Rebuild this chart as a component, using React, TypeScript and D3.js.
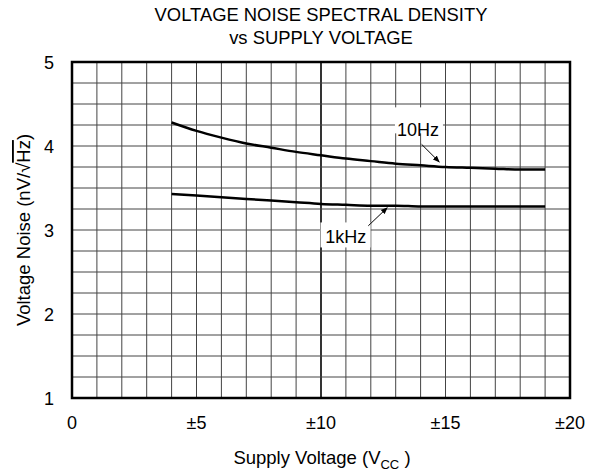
import * as d3 from "d3";

const VOLTS = [4, 5, 6, 7, 8, 9, 10, 11, 12, 13, 14, 15, 16, 17, 18, 19];
const NOISE_10HZ = [4.28, 4.18, 4.1, 4.03, 3.98, 3.93, 3.89, 3.85, 3.82, 3.79, 3.77, 3.75, 3.74, 3.73, 3.72, 3.72];
const NOISE_1KHZ = [3.43, 3.41, 3.39, 3.37, 3.35, 3.33, 3.31, 3.3, 3.29, 3.29, 3.28, 3.28, 3.28, 3.28, 3.28, 3.28];
const X_TICKS = [0, 5, 10, 15, 20];
const X_TICK_LABELS = ["0", "±5", "±10", "±15", "±20"];
const Y_TICKS = [1, 2, 3, 4, 5];

const WIDTH = 600;
const HEIGHT = 472;
const MARGIN = { top: 62, right: 30, bottom: 74, left: 72 };
const INNER_W = WIDTH - MARGIN.left - MARGIN.right;
const INNER_H = HEIGHT - MARGIN.top - MARGIN.bottom;
const FONT = "'Liberation Sans', Arial, sans-serif";

export default function App() {
  const x = d3.scaleLinear().domain([0, 20]).range([0, INNER_W]);
  const y = d3.scaleLinear().domain([1, 5]).range([INNER_H, 0]);

  const line = d3
    .line<number>()
    .x((_, i) => x(VOLTS[i]))
    .y((d) => y(d))
    .curve(d3.curveMonotoneX);

  const vGrid = d3.range(1, 20);
  const hGrid = d3.range(1.25, 5, 0.25);

  return (
    <svg
      width={WIDTH}
      height={HEIGHT}
      style={{ position: "absolute", left: 0, top: 0, background: "#fff" }}
      fontFamily={FONT}
    >
      <text x={321} y={20.5} textAnchor="middle" fontSize={18.4}>
        VOLTAGE NOISE SPECTRAL DENSITY
      </text>
      <text x={321} y={44} textAnchor="middle" fontSize={18.4}>
        vs SUPPLY VOLTAGE
      </text>

      <g transform={`translate(${MARGIN.left},${MARGIN.top})`}>
        {/* grid */}
        {vGrid.map((v) => (
          <line
            key={"v" + v}
            x1={x(v)}
            x2={x(v)}
            y1={0}
            y2={INNER_H}
            stroke={v === 10 ? "#000" : "#444"}
            strokeWidth={v === 10 ? 1.6 : 1}
          />
        ))}
        {hGrid.map((v) => (
          <line
            key={"h" + v}
            x1={0}
            x2={INNER_W}
            y1={y(v)}
            y2={y(v)}
            stroke="#444"
            strokeWidth={1}
          />
        ))}
        <rect x={0} y={0} width={INNER_W} height={INNER_H} fill="none" stroke="#000" strokeWidth={2.5} />

        {/* curves */}
        <path d={line(NOISE_10HZ) ?? ""} fill="none" stroke="#000" strokeWidth={2.5} />
        <path d={line(NOISE_1KHZ) ?? ""} fill="none" stroke="#000" strokeWidth={2.5} />

        {/* labels with arrows */}
        <defs>
          <marker id="arr" viewBox="0 0 10 10" refX={9} refY={5} markerWidth={7} markerHeight={7} orient="auto">
            <path d="M0,1 L10,5 L0,9 z" fill="#000" />
          </marker>
        </defs>
        <rect x={x(12.97)} y={y(4.46)} width={48} height={26} fill="#fff" />
        <text x={x(13.9)} y={y(4.12)} textAnchor="middle" fontSize={18}>
          10Hz
        </text>
        <line
          x1={x(14.04)}
          y1={y(4.02)}
          x2={x(14.75)}
          y2={y(3.81)}
          stroke="#000"
          strokeWidth={1}
          markerEnd="url(#arr)"
        />
        <rect x={x(9.98)} y={y(3.09)} width={50} height={25} fill="#fff" />
        <text x={x(10.99)} y={y(2.84)} textAnchor="middle" fontSize={18}>
          1kHz
        </text>
        <line
          x1={x(11.9)}
          y1={y(3.05)}
          x2={x(12.66)}
          y2={y(3.265)}
          stroke="#000"
          strokeWidth={1}
          markerEnd="url(#arr)"
        />

        {/* y ticks */}
        {Y_TICKS.map((t) => (
          <text key={"yt" + t} x={-18} y={y(t) + 6.5} textAnchor="end" fontSize={18}>
            {t}
          </text>
        ))}
        {/* x ticks */}
        {X_TICKS.map((t, i) => (
          <text key={"xt" + t} x={x(t)} y={INNER_H + 31} textAnchor="middle" fontSize={18}>
            {X_TICK_LABELS[i]}
          </text>
        ))}

        <text x={INNER_W / 2 + 1} y={INNER_H + 66} textAnchor="middle" fontSize={18.5}>
          Supply Voltage (V
          <tspan fontSize={13} dy={4.5}>
            CC
          </tspan>
          <tspan dy={-4.5}> )</tspan>
        </text>

        <text
          transform={`translate(-42,${INNER_H / 2}) rotate(-90)`}
          textAnchor="middle"
          fontSize={18.5}
        >
          Voltage Noise (nV/√
          <tspan style={{ textDecoration: "overline" }}>Hz</tspan>)
        </text>
      </g>
    </svg>
  );
}
